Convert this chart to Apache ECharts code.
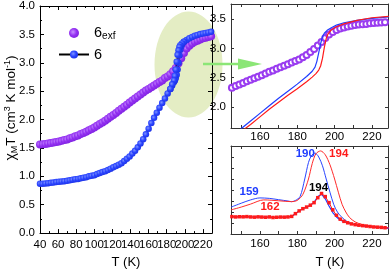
<!DOCTYPE html>
<html><head><meta charset="utf-8">
<script src="https://cdn.jsdelivr.net/npm/echarts@6/dist/echarts.min.js"></script>
<style>html,body{margin:0;padding:0;background:#fff}#c{width:392px;height:274px}</style>
</head><body><div id="c"></div>
<script>
// ---------- Main panel: chi_M T vs T ----------
const mainTicksX = [40,60,80,100,120,140,160,180,200,220];
const exfT = [40,43,46,49,52,55,58,61,64,67,70,73,76,79,82,85,88,91,94,97,100,103,106,109,112,115,118,121,124,127,130,133,136,139,142,145,148,151,154,157,160,163,166,169,172,175,178,181,184,187,190,193,196,199,202,205,208,211,214,217,220,223,226,229];
const exfV = [1.56,1.565,1.57,1.58,1.585,1.595,1.605,1.615,1.625,1.64,1.65,1.67,1.685,1.705,1.72,1.745,1.765,1.785,1.81,1.835,1.86,1.89,1.92,1.95,1.98,2.015,2.05,2.08,2.115,2.155,2.19,2.225,2.26,2.30,2.335,2.37,2.405,2.44,2.475,2.51,2.54,2.57,2.60,2.63,2.66,2.69,2.73,2.76,2.80,2.85,2.91,2.99,3.08,3.17,3.25,3.30,3.34,3.37,3.39,3.41,3.43,3.44,3.455,3.465];

const heatT = [40,43,46,49,52,55,58,61,64,67,70,73,76,79,82,85,88,91,94,97,100,103,106,109,112,115,118,121,124,127,130,133,136,139,142,145,148,151,154,157,160,163,166,169,172,175,178,181,184,186,188,189,190,191,192,193,194,195,196,197,199,202,205,208,211,214,217,220,223,226,229];
const heatV = [0.87,0.87,0.875,0.88,0.885,0.89,0.90,0.905,0.91,0.915,0.92,0.93,0.94,0.95,0.955,0.965,0.975,0.985,1.00,1.01,1.02,1.04,1.06,1.075,1.09,1.11,1.135,1.16,1.18,1.205,1.23,1.27,1.31,1.35,1.40,1.45,1.51,1.58,1.655,1.74,1.84,1.94,2.03,2.12,2.21,2.29,2.37,2.46,2.54,2.60,2.66,2.69,2.73,2.79,2.88,3.00,3.13,3.23,3.29,3.33,3.37,3.40,3.43,3.455,3.475,3.49,3.505,3.515,3.525,3.535,3.545];
const coolT = [199,197,195,194,193,192,191,190,189,188,186,184];
const coolV = [3.37,3.34,3.31,3.28,3.22,3.14,3.02,2.88,2.77,2.69,2.62,2.54];

// ---------- Top-right inset ----------
const insetTickLabels = [160,180,200,220];
const insetYLabels = [2.0,2.5,3.0,3.5];
const tiExfT = [145,147,149,151,153,155,157,159,161,163,165,167,169,171,173,175,177,179,181,183,185,187,189,191,193,195,197,199,201,203,205,207,209,211,213,215,217,219,221,223,225,227,229];
const tiExfV = [2.33,2.36,2.385,2.41,2.44,2.465,2.49,2.515,2.54,2.57,2.60,2.625,2.655,2.68,2.705,2.73,2.76,2.785,2.81,2.85,2.89,2.94,2.99,3.05,3.11,3.18,3.24,3.28,3.315,3.34,3.36,3.375,3.39,3.40,3.41,3.415,3.42,3.43,3.435,3.44,3.445,3.45,3.455];
const tiBlueT = [145,150,155,160,165,170,175,180,185,188,189.5,190.5,191.5,192.5,193.5,194.5,196,198,201,205,212,220,229];
const tiBlueV = [1.50,1.63,1.76,1.89,2.02,2.15,2.27,2.39,2.52,2.61,2.68,2.78,2.93,3.08,3.20,3.26,3.31,3.35,3.40,3.44,3.48,3.515,3.54];
const tiRedT = [145,150,155,160,165,170,175,180,185,188,190,191.5,192.5,193.5,194.5,195.5,196.5,198,201,205,212,220,229];
const tiRedV = [1.44,1.58,1.70,1.83,1.96,2.08,2.20,2.31,2.43,2.51,2.57,2.63,2.70,2.83,3.02,3.17,3.25,3.31,3.37,3.42,3.48,3.525,3.55];

// ---------- Bottom-right inset (derivative curves) ----------
const biBlueSimT = [144.5,150,155,160,165,170,175,177,179,181.5,184,186,187.5,189.5,191.5,193.5,195.5,197.5,199.5,201.5,204,207,211,218,225,229];
const biBlueSimV = [2.44,2.80,3.10,3.28,3.24,3.12,3.00,2.94,3.05,3.40,5.0,6.5,7.1,7.36,7.0,6.2,5.0,3.8,2.7,2.0,1.5,1.1,0.85,0.68,0.58,0.54];
const biRedSimT = [144.5,150,155,162,170,177,180,183,186,188,190,192.5,195,197.5,200,202,204,206,208,211,215,220,225,229];
const biRedSimV = [2.19,2.45,2.72,3.10,3.02,2.94,3.05,3.60,5.0,6.4,7.3,7.55,7.2,6.3,5.0,3.8,2.7,2.0,1.5,1.1,0.85,0.7,0.6,0.55];
const biExpT = [145,147,149,151,153,155,157,159,161,163,165,167,169,171,173,175,177,179,181,183,185,187,189,191,193,195,197,199,201,203,205,207,209,211,213,215,217,219,221,223,225,227,229];
const biExpRedV = [1.58,1.55,1.57,1.56,1.58,1.55,1.53,1.56,1.54,1.52,1.55,1.50,1.52,1.54,1.53,1.55,1.60,1.85,2.10,2.30,2.45,2.62,2.85,3.30,3.68,3.40,2.85,2.20,1.70,1.35,1.15,1.02,0.92,0.85,0.80,0.76,0.72,0.68,0.64,0.62,0.60,0.57,0.55];
const biExpBlueV = [1.58,1.55,1.57,1.56,1.58,1.55,1.53,1.56,1.54,1.52,1.55,1.50,1.52,1.54,1.53,1.55,1.60,1.85,2.10,2.30,2.45,2.62,2.88,3.40,3.62,3.20,2.55,1.95,1.55,1.28,1.12,1.00,0.90,0.84,0.79,0.75,0.71,0.67,0.63,0.61,0.59,0.56,0.54];
// peak annotations [T, value, text]
const blueNotes = [[154.2,3.85,'159'],[184.3,7.25,'190']];
const redNotes = [[165.4,2.46,'162'],[202.2,7.25,'194']];
const blackNotes = [[191.4,4.2,'194']];

const zip = (a,b) => a.map((t,i)=>[t,b[i]]);
const FF = 'Liberation Sans, Arial, sans-serif';

function axX(grid, min, max, opts) {
  return Object.assign({
    type:'value', gridIndex:grid, min:min, max:max, position:'bottom',
    axisLine:{show:true,onZero:false,lineStyle:{color:'#000',width:1}},
    axisTick:{show:true,inside:true,length:4,lineStyle:{color:'#000'}},
    splitLine:{show:false},
    axisLabel:{color:'#000',fontSize:11.5,fontFamily:FF}
  }, opts);
}
function axY(grid, min, max, opts) {
  return Object.assign({
    type:'value', gridIndex:grid, min:min, max:max, position:'left',
    axisLine:{show:true,onZero:false,lineStyle:{color:'#000',width:1}},
    axisTick:{show:true,inside:true,length:4,lineStyle:{color:'#000'}},
    splitLine:{show:false},
    axisLabel:{color:'#000',fontSize:11.5,fontFamily:FF}
  }, opts);
}
const insetLine = {show:true,onZero:false,lineStyle:{color:'#333',width:1}};
const insetTick = {show:true,inside:true,length:3,lineStyle:{color:'#333'},customValues:[150,160,170,180,190,200,210,220]};

const purpleBall = new echarts.graphic.RadialGradient(0.4,0.4,0.7,[{offset:0,color:'#c891ff'},{offset:0.5,color:'#9532f2'},{offset:1,color:'#7a1ede'}]);
const blueBall = new echarts.graphic.RadialGradient(0.4,0.4,0.7,[{offset:0,color:'#7d92ff'},{offset:0.5,color:'#2a44ff'},{offset:1,color:'#1a2ee0'}]);
const noteDot = {color:'rgba(0,0,0,0)', opacity:1};
const noteLabel = c => ({show:true,position:'inside',formatter:p=>p.value[2],color:c,fontWeight:'bold',fontSize:11.5,fontFamily:FF});

const chart = echarts.init(document.getElementById('c'), null, {renderer:'canvas'});
chart.setOption({
  animation:false,
  backgroundColor:'#fff',
  grid:[
    {left:40, top:5, width:172, height:230},
    {left:231, top:4, width:157, height:124},
    {left:231, top:146, width:157, height:88}
  ],
  legend:{
    data:['6exf','6'], orient:'vertical', left:53, top:19, itemWidth:30, itemHeight:10, itemGap:6,
    formatter: n => n==='6exf' ? '{n|6}{s|exf}' : '{n|6}',
    textStyle:{color:'#000', rich:{n:{fontSize:14.5,fontFamily:FF,lineHeight:16,color:'#000'}, s:{fontSize:10,fontFamily:FF,verticalAlign:'bottom',color:'#000',lineHeight:16,padding:[7,0,0,0]}}}
  },
  xAxis:[
    axX(0,40,230,{interval:20, minorTick:{show:true,splitNumber:2,length:2,lineStyle:{color:'#000'}},
      axisLabel:{color:'#000',fontSize:11.5,fontFamily:FF,margin:6,showMaxLabel:false},
      name:'T (K)', nameLocation:'middle', nameGap:22, nameTextStyle:{fontSize:13,fontFamily:FF,color:'#000'}}),
    axX(0,40,230,{interval:20, position:'top', axisLabel:{show:false}, minorTick:{show:true,splitNumber:2,length:2,lineStyle:{color:'#000'}}}),
    axX(1,144.5,228.6,{axisLine:insetLine, axisTick:insetTick,
      axisLabel:{color:'#000',fontSize:11.5,fontFamily:FF,margin:3,customValues:insetTickLabels}}),
    axX(1,144.5,228.6,{position:'top', axisLine:insetLine, axisTick:insetTick, axisLabel:{show:false}}),
    axX(2,144.5,228.6,{axisLine:insetLine, axisTick:insetTick,
      axisLabel:{color:'#000',fontSize:11.5,fontFamily:FF,margin:4,customValues:insetTickLabels},
      name:'T (K)', nameLocation:'middle', nameGap:22, nameTextStyle:{fontSize:13,fontFamily:FF,color:'#000',padding:[0,0,0,41]}}),
    axX(2,144.5,228.6,{position:'top', axisLine:insetLine, axisTick:insetTick, axisLabel:{show:false}})
  ],
  yAxis:[
    axY(0,0,4,{interval:0.5, minorTick:{show:true,splitNumber:2,length:2,lineStyle:{color:'#000'}},
      axisLabel:{color:'#000',fontSize:11.5,fontFamily:FF,margin:5,formatter:v=>v.toFixed(1)}}),
    axY(0,0,4,{interval:0.5, position:'right', axisLabel:{show:false}, minorTick:{show:true,splitNumber:2,length:2,lineStyle:{color:'#000'}}}),
    axY(1,1.64,3.76,{axisLine:insetLine, axisTick:{show:true,inside:true,length:3,lineStyle:{color:'#333'},customValues:insetYLabels},
      axisLabel:{color:'#000',fontSize:11.5,fontFamily:FF,margin:5,customValues:insetYLabels,formatter:v=>v.toFixed(1)}}),
    axY(1,1.64,3.76,{position:'right', axisLine:insetLine, axisTick:{show:true,inside:true,length:3,lineStyle:{color:'#333'},customValues:insetYLabels}, axisLabel:{show:false}}),
    axY(2,0,8,{interval:1, axisLine:insetLine, axisTick:{show:true,inside:true,length:3,lineStyle:{color:'#333'}}, axisLabel:{show:false}}),
    axY(2,0,8,{interval:1, position:'right', axisLine:insetLine, axisTick:{show:true,inside:true,length:3,lineStyle:{color:'#333'}}, axisLabel:{show:false}})
  ],
  series:[
    {name:'6exf', type:'scatter', xAxisIndex:0, yAxisIndex:0, data:zip(exfT,exfV), symbol:'circle', symbolSize:8, itemStyle:{color:purpleBall, opacity:1}},
    {name:'6', type:'line', xAxisIndex:0, yAxisIndex:0, data:zip(heatT,heatV), symbol:'circle', symbolSize:6.5, showSymbol:true,
      lineStyle:{color:'#000',width:1}, itemStyle:{color:blueBall}},
    {name:'6', type:'line', xAxisIndex:0, yAxisIndex:0, data:zip(coolT,coolV), symbol:'circle', symbolSize:6.5, showSymbol:true,
      lineStyle:{color:'#000',width:1}, itemStyle:{color:blueBall}},

    {type:'line', xAxisIndex:2, yAxisIndex:2, data:zip(tiBlueT,tiBlueV), showSymbol:false, lineStyle:{color:'#1f3cff',width:1.2}},
    {type:'line', xAxisIndex:2, yAxisIndex:2, data:zip(tiRedT,tiRedV), showSymbol:false, lineStyle:{color:'#ff1a1a',width:1.2}},
    {type:'scatter', xAxisIndex:2, yAxisIndex:2, data:zip(tiExfT,tiExfV), symbol:'emptyCircle', symbolSize:6, itemStyle:{color:'#9a3cf0',borderWidth:1.4,opacity:1}},

    {type:'line', xAxisIndex:4, yAxisIndex:4, data:zip(biBlueSimT,biBlueSimV), smooth:0.3, showSymbol:false, lineStyle:{color:'#2a45ff',width:1}},
    {type:'line', xAxisIndex:4, yAxisIndex:4, data:zip(biRedSimT,biRedSimV), smooth:0.3, showSymbol:false, lineStyle:{color:'#ff2a2a',width:1}},
    {type:'line', xAxisIndex:4, yAxisIndex:4, data:zip(biExpT,biExpBlueV), showSymbol:false, lineStyle:{color:'#1f3cff',width:1.2}},
    {type:'line', xAxisIndex:4, yAxisIndex:4, data:zip(biExpT,biExpRedV), symbol:'rect', symbolSize:3.5, lineStyle:{color:'#ff1a1a',width:1}, itemStyle:{color:'#ff1a1a'}},

    {type:'scatter', xAxisIndex:4, yAxisIndex:4, data:blueNotes, symbolSize:2, itemStyle:noteDot, z:10, silent:true, label:noteLabel('#1f3cff')},
    {type:'scatter', xAxisIndex:4, yAxisIndex:4, data:redNotes, symbolSize:2, itemStyle:noteDot, z:10, silent:true, label:noteLabel('#ff1a1a')},
    {type:'scatter', xAxisIndex:4, yAxisIndex:4, data:blackNotes, symbolSize:2, itemStyle:noteDot, z:10, silent:true, label:noteLabel('#000')}
  ],
  graphic:[
    {type:'ellipse', z:-1, shape:{cx:188.5, cy:64.5, rx:34, ry:53}, style:{fill:'#e4edc4'}},
    {type:'line', z:50, shape:{x1:203,y1:64,x2:242,y2:64}, style:{stroke:'#8be676',lineWidth:2.5}},
    {type:'polygon', z:50, shape:{points:[[238,58.5],[262,64],[238,69.5]]}, style:{fill:'#8be676'}},
    {type:'text', z:50, x:11, y:108, rotation:Math.PI/2,
      style:{text:'{c|χ}{s|M}{n|T (cm}{p|3}{n| K mol}{p|-1}{n|)}', align:'center', verticalAlign:'middle',
        rich:{c:{fontSize:14,fontFamily:FF,lineHeight:16,fill:'#000'}, n:{fontSize:13.5,fontFamily:FF,lineHeight:16,fill:'#000'},
              s:{fontSize:9,fontFamily:FF,verticalAlign:'bottom',lineHeight:16,padding:[5,0,0,0],fill:'#000'},
              p:{fontSize:9,fontFamily:FF,verticalAlign:'top',lineHeight:16,fill:'#000'}}}}
  ]
});
</script></body></html>
